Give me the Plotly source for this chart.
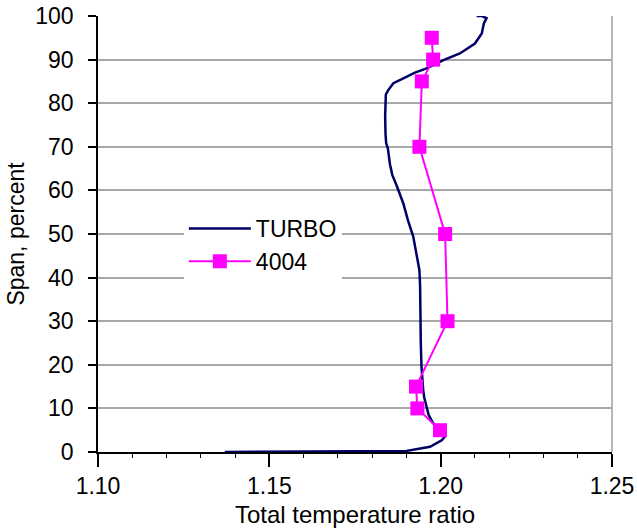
import plotly.graph_objects as go

# TURBO computed profile (total temperature ratio vs span %)
turbo_ratio = [1.137, 1.160, 1.180, 1.190, 1.1969, 1.2003, 1.2013, 1.2005, 1.1990, 1.1978,
               1.1965, 1.1959, 1.1952, 1.1949, 1.1944, 1.1942, 1.1942, 1.1940, 1.1938, 1.1930,
               1.1920, 1.1905, 1.1891, 1.1872, 1.1859, 1.1852, 1.1846, 1.1841, 1.1839, 1.1838,
               1.1838, 1.1840, 1.1847, 1.1862, 1.1891, 1.1925, 1.1959, 1.2008, 1.2056, 1.2100,
               1.2120, 1.2126, 1.2134, 1.2120, 1.2105]
turbo_span = [0.0, 0.1, 0.15, 0.25, 1.2, 2.7, 3.6, 4.6, 5.7, 6.6,
              8.5, 10.4, 12.5, 14.2, 19.6, 25.0, 34.0, 38.0, 41.7, 45.5,
              49.4, 53.0, 57.0, 61.0, 63.5, 66.0, 69.6, 70.8, 73.0, 77.0,
              80.7, 82.0, 83.0, 84.6, 85.7, 87.0, 88.0, 89.9, 91.4, 93.7,
              96.0, 98.3, 99.5, 100.0, 100.0]

# 4004 measured data
exp_ratio = [1.1998, 1.1932, 1.1928, 1.2020, 1.2013, 1.1938, 1.1945, 1.1978, 1.1974]
exp_span = [5, 10, 15, 30, 50, 70, 85, 90, 95]

x_ticks = [1.10, 1.15, 1.20, 1.25]
x_tick_labels = ["1.10", "1.15", "1.20", "1.25"]
y_ticks = [0, 10, 20, 30, 40, 50, 60, 70, 80, 90, 100]

FONT = "Liberation Sans, Arial, sans-serif"

fig = go.Figure()
fig.add_trace(go.Scatter(
    x=turbo_ratio, y=turbo_span, mode="lines", name="TURBO",
    line=dict(color="#000066", width=2.5),
))
fig.add_trace(go.Scatter(
    x=exp_ratio, y=exp_span, mode="lines+markers", name="4004",
    line=dict(color="#ff00ff", width=2),
    marker=dict(symbol="square", size=14, color="#ff00ff"),
))

fig.update_layout(
    width=637, height=529,
    margin=dict(l=98, r=25, t=16, b=77),
    paper_bgcolor="white", plot_bgcolor="white",
    font=dict(family=FONT, size=23, color="black"),
    showlegend=True,
    legend=dict(
        x=0.167, y=0.562, xanchor="left", yanchor="top",
        bgcolor="white", borderwidth=0,
        font=dict(family=FONT, size=23, color="black"),
        tracegroupgap=0, itemwidth=62,
    ),
    xaxis=dict(
        range=[1.10, 1.25], tickvals=x_ticks, ticktext=x_tick_labels,
        showgrid=False, zeroline=False, automargin=False,
        showline=True, linecolor="black", linewidth=1.5,
        ticks="outside", ticklen=13, tickwidth=1.5, tickcolor="black",
        minor=dict(dtick=0.01, tick0=1.10, ticks="outside", ticklen=4,
                   tickwidth=1, tickcolor="black", showgrid=False),
        tickfont=dict(size=23),
        title=dict(text="Total temperature ratio", font=dict(size=24), standoff=8),
    ),
    yaxis=dict(
        range=[0, 100], tickvals=y_ticks,
        showgrid=True, gridcolor="#a8a8a8", gridwidth=1.5,
        zeroline=False, automargin=False,
        showline=True, linecolor="black", linewidth=1.5,
        ticks="outside", ticklen=8, tickwidth=1.5, tickcolor="black",
        ticklabelstandoff=10,
        tickfont=dict(size=23),
        title=dict(text="Span, percent", font=dict(size=23), standoff=4),
    ),
)

# gray right border of the plot area
fig.add_shape(type="line", xref="paper", yref="paper", x0=1, x1=1, y0=0, y1=1,
              line=dict(color="#a0a0a0", width=1.5), layer="below")

fig.write_html("out.html")
